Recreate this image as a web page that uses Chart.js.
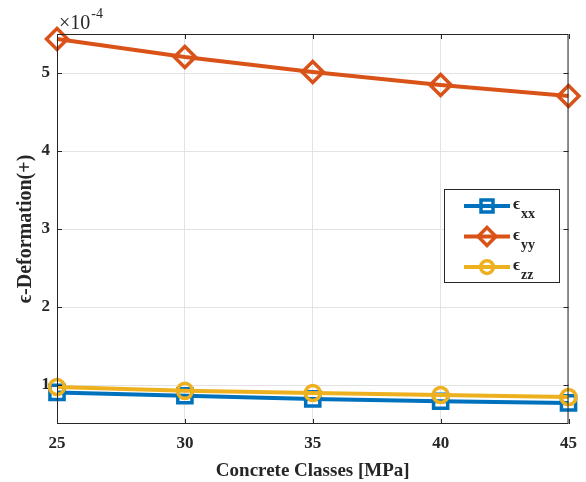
<!DOCTYPE html>
<html lang="en">
<head>
    <meta charset="UTF-8">
    <title>Strain vs Concrete Class</title>
    <script src="https://cdn.jsdelivr.net/npm/chart.js"></script>
    <style>
        body { margin: 0; background: #fff; }
        canvas { display: block; }
    </style>
</head>
<body>
    <canvas id="strainChart" width="586" height="482"></canvas>

    <script>
        // concrete classes (MPa) and strain components
        const classes = [25, 30, 35, 40, 45];
        const epsXX = [0.905e-4, 0.862e-4, 0.822e-4, 0.792e-4, 0.770e-4];
        const epsYY = [5.436e-4, 5.205e-4, 5.013e-4, 4.846e-4, 4.705e-4];
        const epsZZ = [0.974e-4, 0.925e-4, 0.898e-4, 0.872e-4, 0.845e-4];
        const yTicks = [1e-4, 2e-4, 3e-4, 4e-4, 5e-4];
        const legendLabels = ['xx', 'yy', 'zz'];

        const serif = '"Liberation Serif", "DejaVu Serif", serif';
        const axisColor = '#262626';

        const boxPlugin = {
            id: 'boxPlugin',
            afterDraw(chart) {
                const { ctx, chartArea: a, scales } = chart;
                ctx.save();
                ctx.strokeStyle = axisColor;
                ctx.lineWidth = 1;
                ctx.strokeRect(a.left + 0.5, a.top + 0.5, a.right - a.left - 1, a.bottom - a.top - 1);

                // inward tick marks on all four sides
                const len = 5;
                ctx.beginPath();
                scales.x.ticks.forEach(t => {
                    const x = Math.round(scales.x.getPixelForValue(t.value)) + 0.5;
                    ctx.moveTo(x, a.bottom); ctx.lineTo(x, a.bottom - len);
                    ctx.moveTo(x, a.top); ctx.lineTo(x, a.top + len);
                });
                scales.y.ticks.forEach(t => {
                    const y = Math.round(scales.y.getPixelForValue(t.value)) + 0.5;
                    ctx.moveTo(a.left, y); ctx.lineTo(a.left + len, y);
                    ctx.moveTo(a.right, y); ctx.lineTo(a.right - len, y);
                });
                ctx.stroke();

                // exponent label above the y axis
                ctx.fillStyle = axisColor;
                ctx.textBaseline = 'alphabetic';
                ctx.textAlign = 'left';
                ctx.font = '20px ' + serif;
                ctx.fillText('\u00d710', a.left + 2, a.top - 5);
                const w = ctx.measureText('\u00d710').width;
                ctx.font = '14px ' + serif;
                ctx.fillText('-4', a.left + 2 + w + 1, a.top - 16);

                // legend box
                const lx = 444, ly = 189, lw = 115, lh = 93;
                ctx.fillStyle = '#fff';
                ctx.fillRect(lx, ly, lw, lh);
                ctx.strokeStyle = axisColor;
                ctx.lineWidth = 1;
                ctx.strokeRect(lx + 0.5, ly + 0.5, lw, lh);
                chart.data.datasets.forEach((ds, i) => {
                    const cy = 206 + i * 30.5;
                    ctx.strokeStyle = ds.borderColor;
                    ctx.fillStyle = 'rgba(0,0,0,0)';
                    ctx.lineWidth = ds.borderWidth;
                    ctx.beginPath();
                    ctx.moveTo(464, cy); ctx.lineTo(510, cy);
                    ctx.stroke();
                    ctx.lineWidth = ds.pointBorderWidth;
                    Chart.helpers.drawPoint(ctx, {
                        pointStyle: ds.pointStyle,
                        radius: ds.pointRadius * 0.85,
                        rotation: 0,
                        borderWidth: ds.pointBorderWidth
                    }, 487, cy);
                    ctx.fillStyle = axisColor;
                    ctx.font = 'bold 17px ' + serif;
                    ctx.fillText('\u03f5', 513, cy + 3);
                    ctx.font = 'bold 14px ' + serif;
                    ctx.fillText(legendLabels[i], 521, cy + 12);
                });
                ctx.restore();
            }
        };

        function series(data, color, style, radius, order) {
            return {
                data: data,
                borderColor: color,
                backgroundColor: color,
                borderWidth: 4,
                pointStyle: style,
                pointRadius: radius,
                pointBorderWidth: 3.5,
                pointBorderColor: color,
                pointBackgroundColor: 'rgba(0,0,0,0)',
                tension: 0,
                clip: false,
                order: order
            };
        }

        const ctx = document.getElementById('strainChart').getContext('2d');
        new Chart(ctx, {
            type: 'line',
            data: {
                labels: classes,
                datasets: [
                    series(epsXX, '#0072BD', 'rect', 10, 3),
                    series(epsYY, '#D95319', 'rectRot', 10.5, 2),
                    series(epsZZ, '#EDB120', 'circle', 7.5, 1)
                ]
            },
            options: {
                responsive: false,
                animation: false,
                devicePixelRatio: 1,
                layout: { padding: { left: 0, right: 17, top: 34, bottom: 0 } },
                plugins: { legend: { display: false }, tooltip: { enabled: false } },
                scales: {
                    x: {
                        type: 'linear',
                        min: 25,
                        max: 45,
                        afterBuildTicks: s => { s.ticks = classes.map(v => ({ value: v })); },
                        afterFit: s => { s.height = 58; },
                        border: { display: false },
                        grid: { color: '#e3e3e3', drawTicks: false },
                        ticks: {
                            padding: 9,
                            color: axisColor,
                            font: { family: serif, size: 17, weight: 'bold' }
                        },
                        title: {
                            display: true,
                            text: 'Concrete Classes [MPa]',
                            color: axisColor,
                            padding: { top: 2, bottom: 0 },
                            font: { family: serif, size: 19, weight: 'bold' }
                        }
                    },
                    y: {
                        min: 0.5e-4,
                        max: 5.5e-4,
                        afterBuildTicks: s => { s.ticks = yTicks.map(v => ({ value: v })); },
                        afterFit: s => { s.width = 57; },
                        border: { display: false },
                        grid: { color: '#e3e3e3', drawTicks: false },
                        ticks: {
                            padding: 7,
                            color: axisColor,
                            font: { family: serif, size: 17, weight: 'bold' },
                            callback: v => Math.round(v / 1e-4)
                        },
                        title: {
                            display: true,
                            text: '\u03f5-Deformation(+)',
                            color: axisColor,
                            padding: { top: 14, bottom: 0 },
                            font: { family: serif, size: 20, weight: 'bold' }
                        }
                    }
                }
            },
            plugins: [boxPlugin]
        });
    </script>
</body>
</html>
